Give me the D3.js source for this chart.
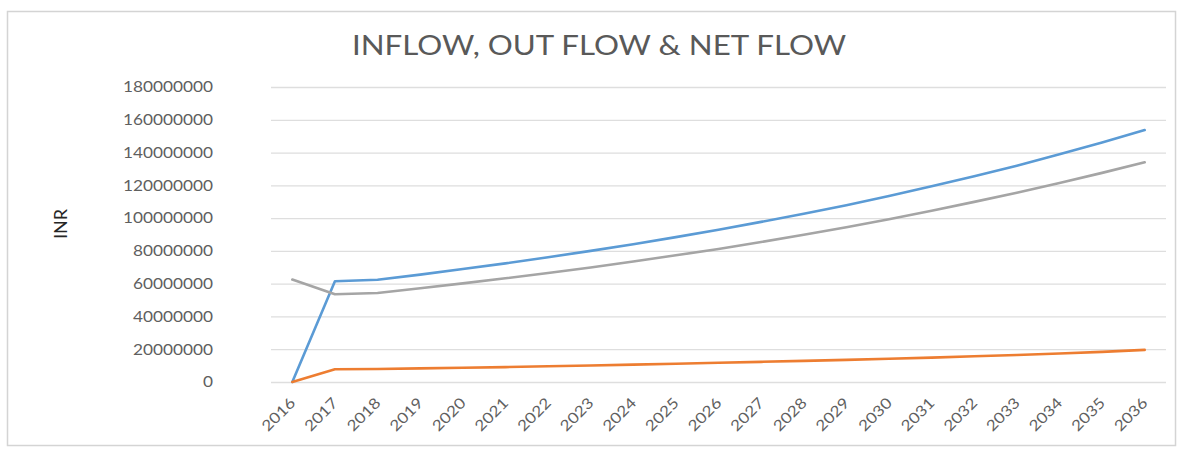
<!DOCTYPE html>
<html>
<head>
<meta charset="utf-8">
<script src="https://cdn.jsdelivr.net/npm/d3@7"></script>
<style>
  html, body { margin: 0; padding: 0; background: #fff; }
  svg { display: block; }
  text { font-family: Lato, "Open Sans", sans-serif; }
</style>
</head>
<body>
<svg id="chart" width="1189" height="449"></svg>
<script>
// Years on the category axis
const years = ["2016","2017","2018","2019","2020","2021","2022","2023","2024","2025","2026",
               "2027","2028","2029","2030","2031","2032","2033","2034","2035","2036"];

// Annual flows in INR
const inflow  = [0, 61500000, 62400000, 65500000, 68900000, 72400000, 76100000, 80000000, 84100000,
                 88400000, 92900000, 97700000, 102700000, 107900000, 113500000, 119400000, 125600000,
                 132000000, 138900000, 146100000, 153700000];
const outflow = [0, 7800000, 7900000, 8300000, 8700000, 9100000, 9600000, 10100000, 10600000,
                 11100000, 11700000, 12300000, 12900000, 13500000, 14200000, 14900000, 15700000,
                 16500000, 17400000, 18400000, 19600000];
const netflow = [62500000, 53500000, 54300000, 57200000, 60200000, 63300000, 66500000, 69900000, 73500000,
                 77300000, 81200000, 85400000, 89800000, 94400000, 99300000, 104500000, 109900000,
                 115500000, 121400000, 127600000, 134100000];

const yTicks = [0, 20000000, 40000000, 60000000, 80000000, 100000000, 120000000, 140000000, 160000000, 180000000];

const seriesList = [
  { name: "INFLOW",   values: inflow,  color: "#5b9bd5" },
  { name: "OUT FLOW", values: outflow, color: "#ed7d31" },
  { name: "NET FLOW", values: netflow, color: "#a5a5a5" }
];

const svg = d3.select("#chart");
const plot = { left: 271, right: 1166, top: 87, bottom: 382 };

// chart area frame
svg.append("rect")
  .attr("x", 7.5).attr("y", 11.5)
  .attr("width", 1168).attr("height", 434)
  .attr("fill", "#fff")
  .attr("stroke", "#d4d4d4")
  .attr("stroke-width", 1.5);

// title
svg.append("text")
  .attr("x", 599).attr("y", 55)
  .attr("text-anchor", "middle")
  .attr("fill", "#595959")
  .attr("font-size", 26)
  .attr("textLength", 494)
  .attr("lengthAdjust", "spacingAndGlyphs")
  .text("INFLOW, OUT FLOW & NET FLOW");

const x = d3.scaleBand().domain(years).range([plot.left, plot.right]);
const y = d3.scaleLinear().domain([0, 180000000]).range([plot.bottom, plot.top]);

// horizontal gridlines + y labels
const yAxis = d3.axisLeft(y)
  .tickValues(yTicks)
  .tickFormat(d3.format("d"))
  .tickSize(-(plot.right - plot.left))
  .tickPadding(58);

const gy = svg.append("g")
  .attr("transform", `translate(${plot.left},0)`)
  .call(yAxis);
gy.select(".domain").remove();
gy.selectAll(".tick line").attr("stroke", "#dedede").attr("stroke-width", 1.3);
gy.selectAll(".tick text")
  .attr("fill", "#5f5f5f")
  .attr("font-size", 15)
  .attr("font-family", "Lato, sans-serif")
  .each(function(d) {
    const s = d3.format("d")(d);
    d3.select(this).attr("textLength", s.length * 10).attr("lengthAdjust", "spacingAndGlyphs");
  });

// x axis labels, rotated
const xAxis = d3.axisBottom(x).tickSize(0).tickPadding(0);
const gx = svg.append("g")
  .attr("transform", `translate(0,${plot.bottom})`)
  .call(xAxis);
gx.select(".domain").remove();
gx.selectAll(".tick text")
  .attr("fill", "#5f5f5f")
  .attr("font-size", 15)
  .attr("font-family", "Lato, sans-serif")
  .attr("text-anchor", "end")
  .attr("textLength", 40)
  .attr("lengthAdjust", "spacingAndGlyphs")
  .attr("dy", 0)
  .attr("transform", "translate(4,22) rotate(-45)");

// axis title
svg.append("text")
  .attr("transform", "translate(67,224) rotate(-90)")
  .attr("text-anchor", "middle")
  .attr("fill", "#262626")
  .attr("font-size", 18)
  .text("INR");

// series lines
const line = d3.line()
  .x((d, i) => x(years[i]) + x.bandwidth() / 2)
  .y(d => y(d));

svg.append("g").selectAll("path")
  .data(seriesList)
  .join("path")
  .attr("d", s => line(s.values))
  .attr("fill", "none")
  .attr("stroke", s => s.color)
  .attr("stroke-width", 2.6)
  .attr("stroke-linejoin", "round")
  .attr("stroke-linecap", "round");
</script>
</body>
</html>
